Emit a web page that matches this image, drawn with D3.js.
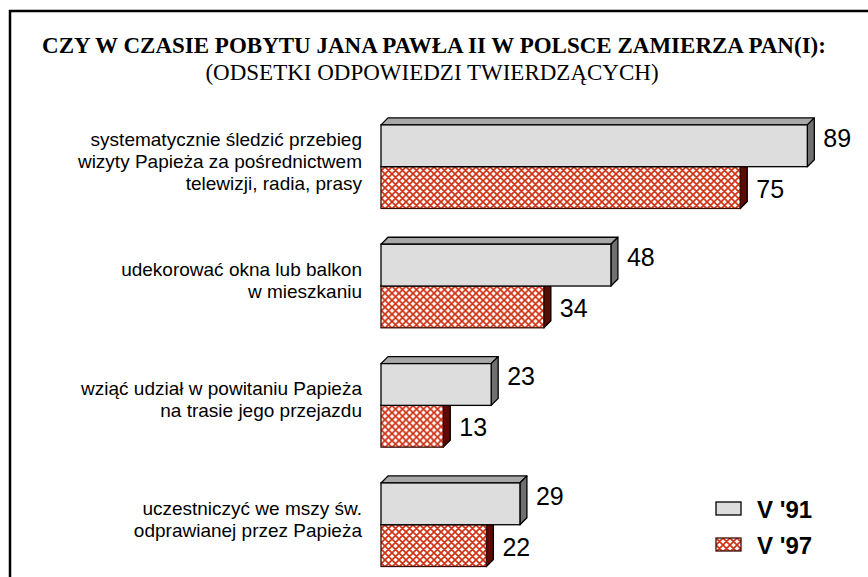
<!DOCTYPE html>
<html>
<head>
<meta charset="utf-8">
<script src="https://cdn.jsdelivr.net/npm/d3@7"></script>
<style>
  html, body { margin: 0; padding: 0; background: #fff; overflow: hidden; }
  text { font-family: Arial, "Liberation Sans", sans-serif; fill: #000; }
  .title { font-family: "Times New Roman", "Liberation Serif", serif; }
</style>
</head>
<body>
<script>
// chart data
var categories = [
  ["systematycznie śledzić przebieg", "wizyty Papieża za pośrednictwem", "telewizji, radia, prasy"],
  ["udekorować okna lub balkon", "w mieszkaniu"],
  ["wziąć udział w powitaniu Papieża", "na trasie jego przejazdu"],
  ["uczestniczyć we mszy św.", "odprawianej przez Papieża"]
];
var seriesNames = ["V '91", "V '97"];
var v91 = [89, 48, 23, 29];
var v97 = [75, 34, 13, 22];
var titleLine1 = "CZY W CZASIE POBYTU JANA PAWŁA II W POLSCE ZAMIERZA PAN(I):";
var titleLine2 = "(ODSETKI ODPOWIEDZI TWIERDZĄCYCH)";

var width = 868, height = 577;
var depth = 7;

var svg = d3.select("body").append("svg")
    .attr("width", width)
    .attr("height", height);

var defs = svg.append("defs");
var pat = defs.append("pattern")
    .attr("id", "hatch")
    .attr("patternUnits", "userSpaceOnUse")
    .attr("width", 7).attr("height", 7);
pat.append("rect").attr("width", 7).attr("height", 7).attr("fill", "#fff");
pat.append("path")
    .attr("d", "M0,0L7,7M7,0L0,7M-1,6L1,8M6,-1L8,1")
    .attr("stroke", "#cf3214")
    .attr("stroke-width", 1.7);

// frame
svg.append("rect")
    .attr("x", 10).attr("y", 11)
    .attr("width", 900).attr("height", 700)
    .attr("fill", "none")
    .attr("stroke", "#000")
    .attr("stroke-width", 2.5);

// title
svg.append("text").attr("class", "title")
    .attr("x", 434).attr("y", 53)
    .attr("text-anchor", "middle")
    .style("font-size", "23px").style("font-weight", "bold")
    .text(titleLine1);
svg.append("text").attr("class", "title")
    .attr("x", 432).attr("y", 80)
    .attr("text-anchor", "middle")
    .style("font-size", "23px")
    .text(titleLine2);

var rows = categories.map(function(c, i) {
  return { key: i, label: c, vals: [v91[i], v97[i]] };
});

var x = d3.scaleLinear().domain([0, 100]).range([381, 860]);
var y0 = d3.scaleBand().domain(d3.range(categories.length))
    .range([107, 584.4]).paddingInner(0.3).paddingOuter(0.15);
var y1 = d3.scaleBand().domain([0, 1]).range([0, y0.bandwidth()]);

var fills = ["#dddddd", "url(#hatch)"];
var tops = ["#a8a8a8", "#7a1208"];
var sides = ["#707070", "#5e0a02"];

var groups = svg.selectAll("g.grp").data(rows).enter().append("g")
    .attr("class", "grp")
    .attr("transform", function(d) { return "translate(0," + y0(d.key) + ")"; });

// draw V '97 first so the V '91 bar sits over its hidden top
[1, 0].forEach(function(s) {
  groups.each(function(d) {
    var g = d3.select(this);
    var x0 = x(0), x1 = x(d.vals[s]);
    var yt = y1(s), yb = y1(s) + y1.bandwidth();
    g.append("path")
      .attr("d", "M" + x0 + "," + yt + "L" + (x0 + depth) + "," + (yt - depth) +
                 "L" + (x1 + depth) + "," + (yt - depth) + "L" + x1 + "," + yt + "Z")
      .attr("fill", tops[s]).attr("stroke", "#000").attr("stroke-width", 1.3)
      .attr("stroke-linejoin", "round");
    g.append("path")
      .attr("d", "M" + x1 + "," + yt + "L" + (x1 + depth) + "," + (yt - depth) +
                 "L" + (x1 + depth) + "," + (yb - depth) + "L" + x1 + "," + yb + "Z")
      .attr("fill", sides[s]).attr("stroke", "#000").attr("stroke-width", 1.3)
      .attr("stroke-linejoin", "round");
    g.append("rect")
      .attr("x", x0).attr("y", yt)
      .attr("width", x1 - x0).attr("height", yb - yt)
      .attr("fill", fills[s]).attr("stroke", s === 0 ? "#000" : "#3a0a04")
      .attr("stroke-width", 1.3);
    g.append("text")
      .attr("x", x1 + depth + 9)
      .attr("y", (yt + yb) / 2 + (s === 0 ? -8 : 1))
      .attr("dy", "0.36em")
      .style("font-size", "25px")
      .text(d.vals[s]);
  });
});

// category labels
groups.append("text")
    .attr("text-anchor", "end")
    .style("font-size", "19px")
    .each(function(d) {
      var t = d3.select(this);
      var lh = 22;
      var n = d.label.length;
      var c = y0.bandwidth() / 2 - 6;
      d.label.forEach(function(line, i) {
        t.append("tspan")
          .attr("x", 362)
          .attr("y", c + (i - (n - 1) / 2) * lh)
          .attr("dy", "0.36em")
          .text(line);
      });
    });

// legend
var legend = svg.append("g").attr("transform", "translate(716,502)");
seriesNames.forEach(function(name, i) {
  var row = legend.append("g").attr("transform", "translate(0," + (i * 36) + ")");
  row.append("rect")
    .attr("width", 25).attr("height", 13)
    .attr("fill", fills[i])
    .attr("stroke", i === 0 ? "#000" : "#3a0a04")
    .attr("stroke-width", 1.3);
  row.append("text")
    .attr("x", 41).attr("y", 7)
    .attr("dy", "0.36em")
    .style("font-size", "24px").style("font-weight", "bold")
    .text(name);
});
</script>
</body>
</html>
